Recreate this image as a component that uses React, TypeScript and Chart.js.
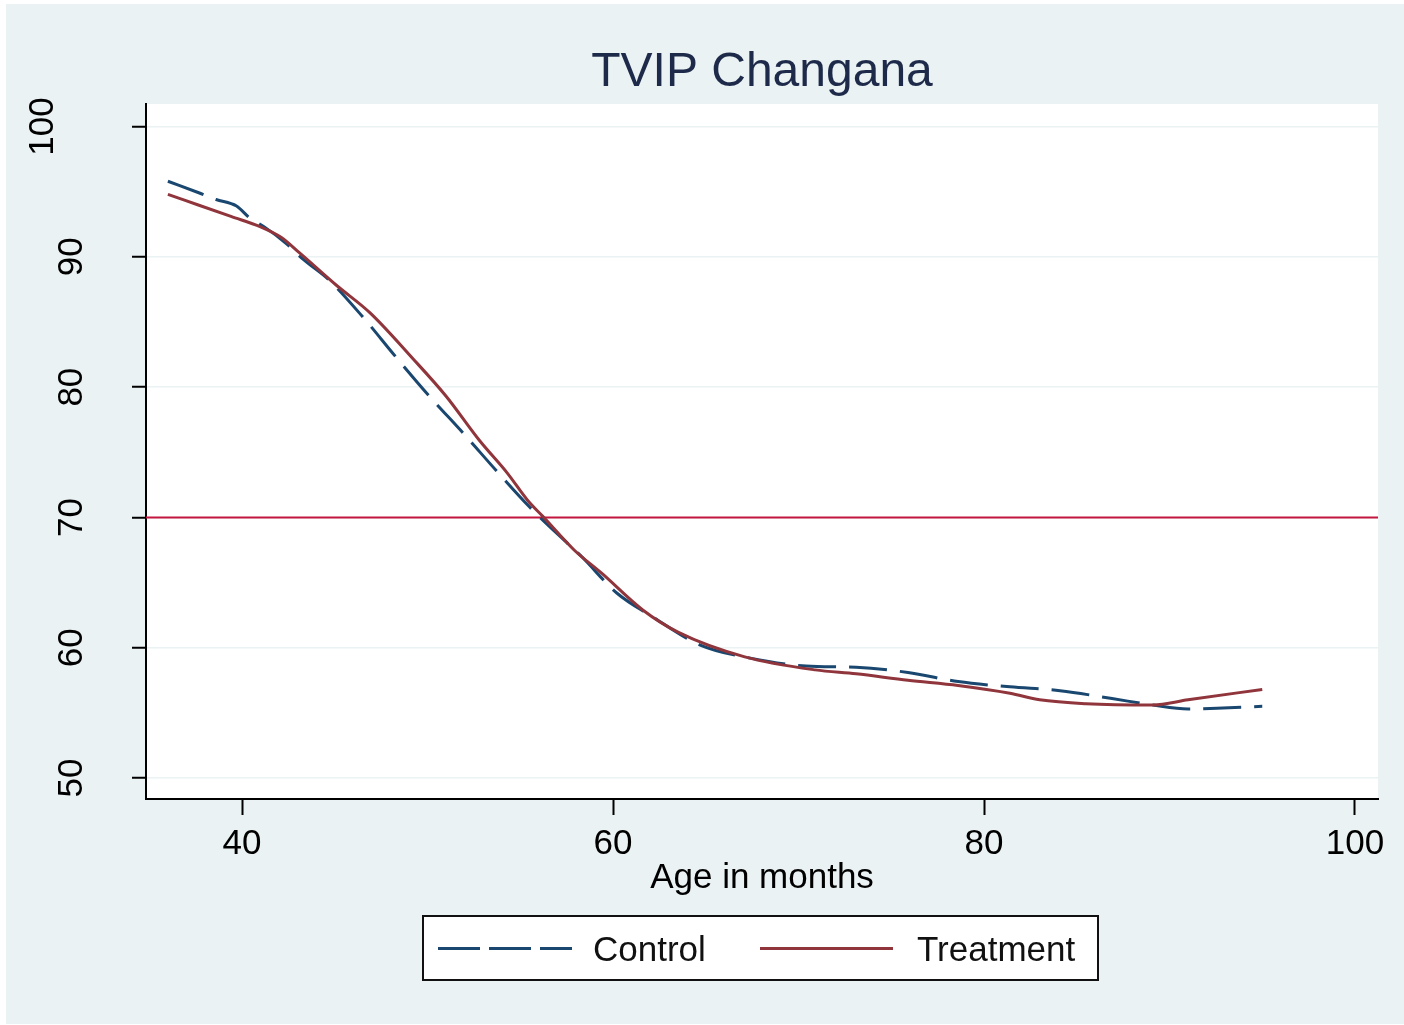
import React, { useEffect, useRef } from 'react';
import { Chart, registerables } from 'chart.js';

Chart.register(...registerables);

// ---- data ----
const chartTitle = 'TVIP Changana';
const xAxisTitle = 'Age in months';
const seriesNames = ['Control', 'Treatment'];

const controlAge = [36.0, 37.7, 38.6, 39.7, 40.4, 41.2, 42.4, 43.3, 44.7, 46.5, 48.3, 50.1, 51.9, 53.7, 55.5, 57.7, 58.3, 60.2, 62.1, 64.7, 67.4, 70.4, 73.1, 75.9, 78.6, 81.4, 84.1, 86.9, 89.1, 91.0, 93.2, 95.0];
const controlScore = [95.8, 94.9, 94.4, 93.9, 93.0, 92.3, 91.0, 89.8, 88.2, 85.4, 82.3, 79.3, 76.5, 73.6, 70.8, 67.8, 67.0, 64.2, 62.4, 60.2, 59.2, 58.6, 58.5, 58.1, 57.4, 57.0, 56.7, 56.1, 55.6, 55.3, 55.4, 55.5];

const treatmentAge = [36.0, 37.6, 39.4, 41.0, 42.1, 43.1, 45.1, 46.9, 49.2, 51.0, 52.8, 54.3, 55.4, 56.2, 57.9, 59.4, 61.6, 63.5, 67.1, 70.9, 73.1, 75.9, 78.6, 81.4, 83.0, 85.5, 89.1, 91.0, 95.0];
const treatmentScore = [94.8, 94.0, 93.1, 92.3, 91.5, 90.3, 87.8, 85.7, 82.2, 79.3, 75.9, 73.4, 71.3, 70.1, 67.5, 65.7, 62.9, 61.2, 59.3, 58.3, 58.0, 57.5, 57.1, 56.5, 56.0, 55.7, 55.6, 56.0, 56.8];

const referenceScore = 70;
const xTickValues = [40, 60, 80, 100];
const yTickValues = [50, 60, 70, 80, 90, 100];
const xRange = [34.82, 101.24];
const yRange = [48.39, 101.73];

// ---- styles ----
const FONT = '"Liberation Sans", Arial, Helvetica, sans-serif';
const BG = '#eaf2f3';
const CONTROL_COLOR = '#1a476f';
const TREATMENT_COLOR = '#90353b';
const REF_COLOR = '#c4173f';
const TITLE_COLOR = '#1e2a4a';

const toPoints = (xs: number[], ys: number[]) => xs.map((x, i) => ({ x, y: ys[i] }));

const backgroundPlugin = {
  id: 'stataBackground',
  beforeDraw(chart: any) {
    const { ctx, chartArea: a } = chart;
    ctx.save();
    ctx.fillStyle = '#ffffff';
    ctx.fillRect(0, 0, chart.width, chart.height);
    ctx.fillStyle = BG;
    ctx.fillRect(6, 4, chart.width - 6, chart.height - 5);
    ctx.fillStyle = '#ffffff';
    ctx.fillRect(a.left, a.top, a.right - a.left, a.bottom - a.top);
    ctx.restore();
  },
};

const legendPlugin = {
  id: 'stataLegend',
  afterDraw(chart: any) {
    const { ctx } = chart;
    ctx.save();
    const bx = 423, by = 916, bw = 675, bh = 64;
    ctx.fillStyle = '#ffffff';
    ctx.fillRect(bx, by, bw, bh);
    ctx.strokeStyle = '#111111';
    ctx.lineWidth = 2;
    ctx.setLineDash([]);
    ctx.strokeRect(bx, by, bw, bh);
    const cy = 948.5;
    // control sample
    ctx.strokeStyle = CONTROL_COLOR;
    ctx.lineWidth = 3;
    ctx.setLineDash([42, 9]);
    ctx.beginPath();
    ctx.moveTo(438, cy);
    ctx.lineTo(572, cy);
    ctx.stroke();
    // treatment sample
    ctx.setLineDash([]);
    ctx.strokeStyle = TREATMENT_COLOR;
    ctx.beginPath();
    ctx.moveTo(760, cy);
    ctx.lineTo(893, cy);
    ctx.stroke();
    // texts
    ctx.fillStyle = '#111111';
    ctx.font = `35px ${FONT}`;
    ctx.textBaseline = 'middle';
    ctx.textAlign = 'left';
    ctx.fillText(seriesNames[0], 593, cy + 3);
    ctx.fillText(seriesNames[1], 917, cy + 3);
    ctx.restore();
  },
};

export default function App() {
  const canvasRef = useRef<HTMLCanvasElement | null>(null);

  useEffect(() => {
    const canvas = canvasRef.current;
    if (!canvas) return;
    const chart = new Chart(canvas, {
      type: 'line',
      data: {
        datasets: [
          {
            label: seriesNames[1],
            data: toPoints(treatmentAge, treatmentScore),
            borderColor: TREATMENT_COLOR,
            borderWidth: 3,
            pointRadius: 0,
            cubicInterpolationMode: 'monotone',
            fill: false,
          },
          {
            label: seriesNames[0],
            data: toPoints(controlAge, controlScore),
            borderColor: CONTROL_COLOR,
            borderWidth: 3,
            borderDash: [38, 13],
            pointRadius: 0,
            cubicInterpolationMode: 'monotone',
            fill: false,
          },
          {
            label: 'Reference',
            data: [
              { x: xRange[0], y: referenceScore },
              { x: xRange[1], y: referenceScore },
            ],
            borderColor: REF_COLOR,
            borderWidth: 2,
            pointRadius: 0,
            fill: false,
          },
        ],
      },
      options: {
        responsive: false,
        animation: false,
        devicePixelRatio: 1,
        layout: { padding: { left: 0, top: 0, right: 26, bottom: 126 } },
        plugins: {
          legend: { display: false },
          tooltip: { enabled: false },
          title: {
            display: true,
            text: chartTitle,
            fullSize: false,
            color: TITLE_COLOR,
            font: { family: FONT, size: 48, weight: 'normal', lineHeight: 1.2 },
            padding: { top: 44.4, bottom: 2 },
          },
        },
        scales: {
          x: {
            type: 'linear',
            min: xRange[0],
            max: xRange[1],
            afterBuildTicks: (s: any) => {
              s.ticks = xTickValues.map((v) => ({ value: v }));
            },
            afterFit: (s: any) => {
              s.height = 100;
            },
            border: { display: true, color: '#000000', width: 2 },
            grid: {
              drawOnChartArea: false,
              drawTicks: true,
              tickLength: 16,
              tickColor: '#000000',
              tickWidth: 2,
            },
            ticks: {
              color: '#000000',
              font: { family: FONT, size: 35 },
              padding: 8,
              maxRotation: 0,
              minRotation: 0,
              autoSkip: false,
              callback: (v: any) => String(v),
            },
            title: {
              display: true,
              text: xAxisTitle,
              color: '#000000',
              font: { family: FONT, size: 35, lineHeight: 1.2 },
              padding: { top: 0, bottom: 0 },
            },
          },
          y: {
            type: 'linear',
            min: yRange[0],
            max: yRange[1],
            afterBuildTicks: (s: any) => {
              s.ticks = yTickValues.map((v) => ({ value: v }));
            },
            afterFit: (s: any) => {
              s.width = 146;
            },
            border: { display: true, color: '#000000', width: 2 },
            grid: {
              color: BG,
              lineWidth: 1.5,
              drawTicks: true,
              tickLength: 14,
              tickColor: '#000000',
              tickWidth: 2,
            },
            ticks: {
              color: '#000000',
              font: (c: any) => ({
                family: FONT,
                size: 35,
                lineHeight: c.tick && c.tick.value === 100 ? 1.71 : 1.2,
              }),
              padding: 30,
              crossAlign: 'center',
              minRotation: 90,
              maxRotation: 90,
              autoSkip: false,
              callback: (v: any) => (v === 100 ? [String(v), ''] : String(v)),
            },
          },
        },
      } as any,
      plugins: [backgroundPlugin, legendPlugin],
    });
    return () => chart.destroy();
  }, []);

  return (
    <div style={{ position: 'absolute', left: 0, top: 0, width: 1404, height: 1025 }}>
      <canvas ref={canvasRef} width={1404} height={1025} style={{ display: 'block' }} />
    </div>
  );
}
